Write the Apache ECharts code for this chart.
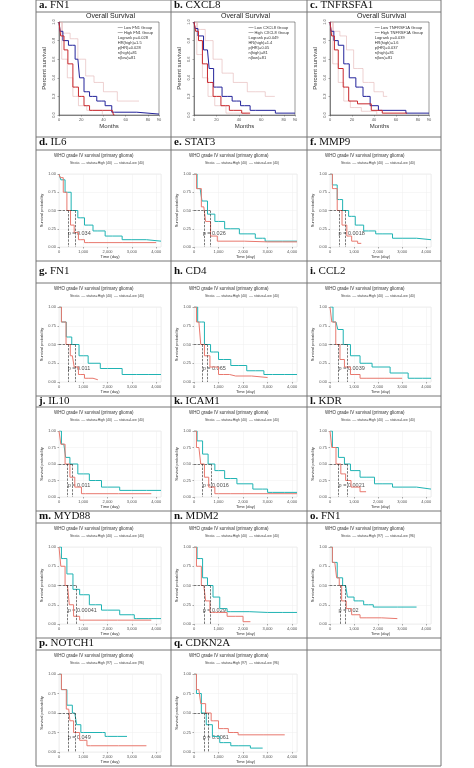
<!DOCTYPE html>
<html><head><meta charset="utf-8">
<script src="https://cdn.jsdelivr.net/npm/echarts@6/dist/echarts.min.js"></script>
<style>html,body{margin:0;padding:0;background:#fff}#app{width:474px;height:768px}</style>
</head><body><div id="app"></div>
<script>
// ---- data ----
const labels = [
  ['a.', 'FN1'], ['b.', 'CXCL8'], ['c.', 'TNFRSFA1'],
  ['d.', 'IL6'], ['e.', 'STAT3'], ['f.', 'MMP9'],
  ['g.', 'FN1'], ['h.', 'CD4'], ['i.', 'CCL2'],
  ['j.', 'IL10'], ['k.', 'ICAM1'], ['l.', 'KDR'],
  ['m.', 'MYD88'], ['n.', 'MDM2'], ['o.', 'FN1'],
  ['p.', 'NOTCH1'], ['q.', 'CDKN2A']
]
// top row (GEPIA, months)
const gepiaGene = ['FN1', 'CXCL8', 'TNFRSF1A']
const gepiaStats = [
  ['Logrank p=0.028', 'HR(high)=1.5', 'p(HR)=0.028', 'n(high)=81', 'n(low)=81'],
  ['Logrank p=0.049', 'HR(high)=1.4', 'p(HR)=0.05', 'n(high)=81', 'n(low)=81'],
  ['Logrank p=0.039', 'HR(high)=1.6', 'p(HR)=0.037', 'n(high)=81', 'n(low)=81']
]
const gepiaLow = [
  [[0,1],[2,0.9],[5,0.8],[12,0.75],[17,0.6],[20,0.4],[25,0.25],[30,0.2],[38,0.15],[45,0.1],[50,0.03],[90,0.01]],
  [[0,1],[2,0.93],[5,0.85],[12,0.7],[15,0.5],[20,0.3],[30,0.2],[38,0.15],[45,0.1],[55,0.05],[90,0.02]],
  [[0,1],[2,0.9],[5,0.8],[10,0.75],[15,0.55],[20,0.4],[27,0.3],[33,0.2],[40,0.1],[48,0.05],[90,0.02]]
]
const gepiaHigh = [
  [[0,1],[3,0.85],[6,0.7],[10,0.55],[15,0.3],[20,0.2],[25,0.1],[30,0.05],[48,0.05],[50,0]],
  [[0,1],[3,0.9],[5,0.8],[10,0.55],[14,0.35],[20,0.2],[28,0.1],[35,0.05],[50,0.02]],
  [[0,1],[3,0.85],[5,0.7],[10,0.5],[14,0.3],[20,0.15],[30,0.12],[45,0.05],[50,0.02],[70,0.02]]
]
const gepiaUpper = [
  [[0,1],[6,0.88],[14,0.82],[20,0.6],[28,0.42],[35,0.35],[45,0.25],[60,0.15],[72,0.15]],
  [[0,1],[6,0.92],[14,0.8],[20,0.6],[30,0.45],[40,0.35],[55,0.25],[72,0.2]],
  [[0,1],[6,0.9],[12,0.85],[18,0.7],[25,0.5],[35,0.35],[45,0.25],[52,0.2]]
]
const gepiaLower = [
  [[0,1],[5,0.6],[10,0.4],[15,0.2],[20,0.1],[30,0.05],[48,0]],
  [[0,1],[5,0.65],[10,0.4],[15,0.2],[22,0.1],[35,0.02],[50,0]],
  [[0,1],[5,0.55],[10,0.35],[15,0.15],[22,0.08],[35,0.04],[50,0]]
]
// lower panels (GlioVis, days): [high, low]
const kmHigh = [
  [[0,1],[100,0.95],[250,0.75],[400,0.5],[550,0.3],[700,0.2],[900,0.1],[1200,0.06],[4000,0.06]],
  [[0,1],[200,0.8],[400,0.55],[550,0.35],[800,0.15],[1100,0.08],[3000,0.07],[4200,0.07]],
  [[0,1],[200,0.8],[400,0.5],[600,0.3],[800,0.15],[1000,0.08],[1300,0.05]],
  [[0,1],[200,0.8],[380,0.5],[550,0.35],[700,0.2],[900,0.1],[1200,0.05],[1600,0.03]],
  [[0,1],[200,0.8],[350,0.5],[500,0.35],[800,0.2],[1200,0.1],[1700,0.08],[3000,0.06]],
  [[0,1],[150,0.8],[330,0.5],[500,0.3],[700,0.2],[1000,0.1],[1500,0.05],[3000,0.05]],
  [[0,1],[150,0.8],[350,0.5],[550,0.3],[750,0.15],[1100,0.05],[3800,0.05]],
  [[0,1],[200,0.75],[350,0.5],[500,0.3],[700,0.15],[1000,0.05],[2000,0.05],[4200,0.05]],
  [[0,1],[150,0.75],[350,0.5],[550,0.35],[750,0.25],[1000,0.15],[1500,0.08]],
  [[0,1],[150,0.75],[350,0.5],[500,0.25],[700,0.1],[1000,0.05],[3800,0.05]],
  [[0,1],[200,0.75],[400,0.5],[550,0.3],[750,0.15],[1000,0.15],[1700,0.1],[2300,0.03]],
  [[0,1],[200,0.8],[350,0.6],[420,0.5],[550,0.3],[800,0.2],[1000,0.12],[1500,0.08],[2800,0.07]],
  [[0,1],[200,0.8],[400,0.55],[500,0.4],[700,0.25],[1000,0.15],[1300,0.08],[3600,0.08]],
  [[0,1],[200,0.8],[350,0.62],[600,0.5],[800,0.4],[1200,0.3],[1600,0.25],[2000,0.22],[3700,0.22]]
]
const kmLow = [
  [[0,1],[150,0.92],[350,0.75],[650,0.5],[900,0.4],[1200,0.3],[1600,0.22],[2200,0.15],[3000,0.1],[4200,0.08]],
  [[0,1],[250,0.8],[400,0.63],[700,0.45],[1000,0.35],[1500,0.25],[2200,0.18],[2800,0.12],[3000,0.08],[4200,0.08]],
  [[0,1],[200,0.85],[400,0.65],[650,0.5],[900,0.42],[1200,0.3],[1600,0.22],[2200,0.18],[3000,0.12],[4200,0.1]],
  [[0,1],[200,0.8],[400,0.6],[650,0.5],[1000,0.35],[1400,0.25],[2000,0.18],[3200,0.1],[4200,0.1]],
  [[0,1],[300,0.8],[550,0.5],[800,0.4],[1200,0.3],[1800,0.22],[2500,0.15],[3200,0.1],[4200,0.1]],
  [[0,1],[250,0.8],[400,0.7],[700,0.5],[1000,0.35],[1500,0.25],[2000,0.2],[3000,0.12],[3500,0.05],[4200,0.05]],
  [[0,1],[200,0.8],[350,0.6],[550,0.5],[1000,0.35],[1500,0.25],[2000,0.15],[3000,0.1],[4200,0.1]],
  [[0,1],[250,0.85],[450,0.65],[700,0.5],[1000,0.4],[1500,0.28],[2000,0.2],[2800,0.12],[3200,0.07],[4200,0.07]],
  [[0,1],[200,0.75],[500,0.6],[700,0.5],[1000,0.4],[1500,0.3],[2200,0.2],[3000,0.15],[4200,0.12]],
  [[0,1],[200,0.85],[450,0.65],[700,0.45],[1000,0.38],[1500,0.25],[2000,0.18],[3000,0.12],[3200,0.07],[4200,0.07]],
  [[0,1],[250,0.85],[450,0.6],[650,0.5],[900,0.35],[1200,0.2],[1500,0.16],[3000,0.15],[4200,0.15]],
  [[0,1],[200,0.8],[400,0.6],[650,0.5],[800,0.35],[1200,0.3],[1600,0.25],[2000,0.22],[3600,0.22]],
  [[0,1],[200,0.8],[450,0.6],[650,0.5],[800,0.35],[1000,0.25],[1800,0.25],[2000,0.2],[2800,0.2]],
  [[0,1],[200,0.75],[400,0.5],[600,0.35],[900,0.2],[1200,0.12],[1800,0.08],[2800,0.05]]
]
const medians = [[400,650],[420,650],[400,650],[380,650],[350,550],[330,700],[350,550],[350,700],[350,700],[350,700],[400,650],[420,650],[400,650],[600,400]]
const pValues = ['p = 0.034','p = 0.026','p = 0.0018','p = 0.011','p = 0.065','p = 0.0039','p = 0.011','p = 0.0016','p = 0.0021','p = 0.00041','p = 0.029','p = 0.02','p = 0.049','p = 0.0061']
const groupN = [[40,40],[40,40],[40,40],[40,40],[40,40],[40,40],[40,40],[40,40],[40,40],[40,40],[40,40],[97,96],[97,96],[97,96]]

// ---- layout ----
const colX = [36, 171, 307, 441]
const labelRows = [[0,12],[137,150],[261,283],[396,407],[511,523],[638,650]]
const chartRows = [[12,137],[150,261],[283,396],[407,511],[523,638],[650,766]]
const RED = '#e8786e', TEAL = '#1fb3b3'

const echart = echarts.init(document.getElementById('app'))
const grid = [], xAxis = [], yAxis = [], series = [], graphic = []
const small = { fontSize: 4, color: '#555', fontFamily: 'Liberation Sans' }

// table lines
const hs = [0]
labelRows.forEach((r, i) => { hs.push(r[1]); hs.push(chartRows[i][1]) })
hs.forEach(y => graphic.push({ type: 'line', shape: { x1: colX[0], y1: y, x2: colX[3], y2: y }, style: { stroke: '#777', lineWidth: 1 } }))
colX.forEach(x => graphic.push({ type: 'line', shape: { x1: x, y1: 0, x2: x, y2: 766 }, style: { stroke: '#777', lineWidth: 1 } }))

labels.forEach((lb, i) => {
  const row = Math.floor(i / 3), col = i % 3
  graphic.push({
    type: 'text', left: colX[col] + 3, top: labelRows[row][0] + (row === 2 ? 5 : 0),
    style: { text: '{b|' + lb[0] + '} ' + lb[1], font: '11px "Liberation Serif"', fill: '#111',
      rich: { b: { fontWeight: 'bold', fontSize: 11, fontFamily: 'Liberation Serif' } } }
  })
})

function addAxes(idx, rect, xmax, xint, yint, xname, yname) {
  const top = idx < 3
  grid.push({ left: rect[0], top: rect[1], width: rect[2], height: rect[3], show: true, borderColor: top ? '#333' : '#ddd', borderWidth: 0.5, backgroundColor: '#fff' })
  xAxis.push({ gridIndex: idx, type: 'value', min: 0, max: xmax, interval: xint, name: xname, nameLocation: 'middle', nameGap: 8,
    nameTextStyle: { fontSize: top ? 6 : 4, color: '#333' },
    axisLine: { show: top, lineStyle: { color: '#333', width: 0.5 } }, axisTick: { show: true, length: 1.5, lineStyle: { color: '#555', width: 0.5 } },
    axisLabel: Object.assign({ margin: 3 }, small), splitLine: { show: !top, lineStyle: { color: '#eee', width: 0.5 } } })
  yAxis.push({ gridIndex: idx, type: 'value', min: 0, max: 1, interval: yint, name: yname, nameLocation: 'middle', nameGap: 12,
    nameTextStyle: { fontSize: top ? 6 : 4, color: '#333' },
    axisLine: { show: top, lineStyle: { color: '#333', width: 0.5 } }, axisTick: { show: true, length: 1.5, lineStyle: { color: '#555', width: 0.5 } },
    axisLabel: Object.assign({ margin: 3, rotate: top ? 90 : 0, formatter: v => top ? v.toFixed(1) : v.toFixed(2) }, small),
    splitLine: { show: !top, lineStyle: { color: '#eee', width: 0.5 } } })
}

function step(idx, data, color, width) {
  series.push({ type: 'line', xAxisIndex: idx, yAxisIndex: idx, data: data, step: 'middle', showSymbol: false, silent: true,
    lineStyle: { color: color, width: width } })
}

// top row
for (let c = 0; c < 3; c++) {
  const x0 = colX[c], y0 = chartRows[0][0]
  addAxes(c, [x0 + 23, y0 + 10, colX[c + 1] - x0 - 35, 93], 90, 20, 0.2, 'Months', 'Percent survival')
  graphic.push({ type: 'text', left: x0 + 50, top: y0 + 1, style: { text: 'Overall Survival', font: '7px "Liberation Sans"', fill: '#222' } })
  step(c, gepiaUpper[c], '#e3b4b4', 0.6)
  step(c, gepiaLower[c], '#e3b4b4', 0.6)
  step(c, gepiaLow[c], '#23239a', 1)
  step(c, gepiaHigh[c], '#c8282d', 1)
  const leg = ['{l|—} Low ' + gepiaGene[c] + ' Group', '{h|—} High ' + gepiaGene[c] + ' Group'].concat(gepiaStats[c])
  graphic.push({ type: 'text', right: 474 - colX[c + 1] + 18, top: y0 + 13,
    style: { text: leg.join('\n'), font: '4px "Liberation Sans"', fill: '#333', align: 'right', lineHeight: 5,
      rich: { l: { color: '#23239a', fontSize: 5 }, h: { color: '#c8282d', fontSize: 5 } } } })
}

// lower panels
for (let k = 0; k < 14; k++) {
  const i = k + 3, row = Math.floor(i / 3), col = i % 3, idx = i
  const x0 = colX[col], y0 = chartRows[row][0], y1 = chartRows[row][1]
  addAxes(idx, [x0 + 23, y0 + 24, colX[col + 1] - x0 - 33, y1 - y0 - 38], 4200, 1000, 0.25, 'Time (day)', 'Survival probability')
  graphic.push({ type: 'text', left: x0 + 18, top: y0 + 3, style: { text: 'WHO grade IV survival (primary glioma)', font: '4.5px "Liberation Sans"', fill: '#333' } })
  graphic.push({ type: 'text', left: x0 + 34, top: y0 + 11,
    style: { text: 'Strata  {h|—} status=High (' + groupN[k][0] + ')  {l|—} status=Low (' + groupN[k][1] + ')', font: '3.5px "Liberation Sans"', fill: '#444',
      rich: { h: { color: RED, fontSize: 4 }, l: { color: TEAL, fontSize: 4 } } } })
  const m = medians[k], mx = Math.max(m[0], m[1])
  step(idx, kmLow[k], TEAL, 1)
  series.push({ type: 'line', xAxisIndex: idx, yAxisIndex: idx, data: kmHigh[k], step: 'middle', showSymbol: false, silent: true,
    lineStyle: { color: RED, width: 1 },
    markLine: { silent: true, symbol: 'none', label: { show: false }, lineStyle: { color: '#222', type: 'dashed', width: 0.6 },
      data: [[{ coord: [0, 0.5] }, { coord: [mx, 0.5] }], [{ coord: [m[0], 0.5] }, { coord: [m[0], 0] }], [{ coord: [m[1], 0.5] }, { coord: [m[1], 0] }]] } })
  series.push({ type: 'scatter', xAxisIndex: idx, yAxisIndex: idx, data: [[150, 0.18]], symbolSize: 0, silent: true,
    label: { show: true, position: 'right', formatter: pValues[k], fontSize: 5.5, color: '#222', fontFamily: 'Liberation Sans' } })
}

echart.setOption({ animation: false, grid, xAxis, yAxis, series, graphic })
</script></body></html>
